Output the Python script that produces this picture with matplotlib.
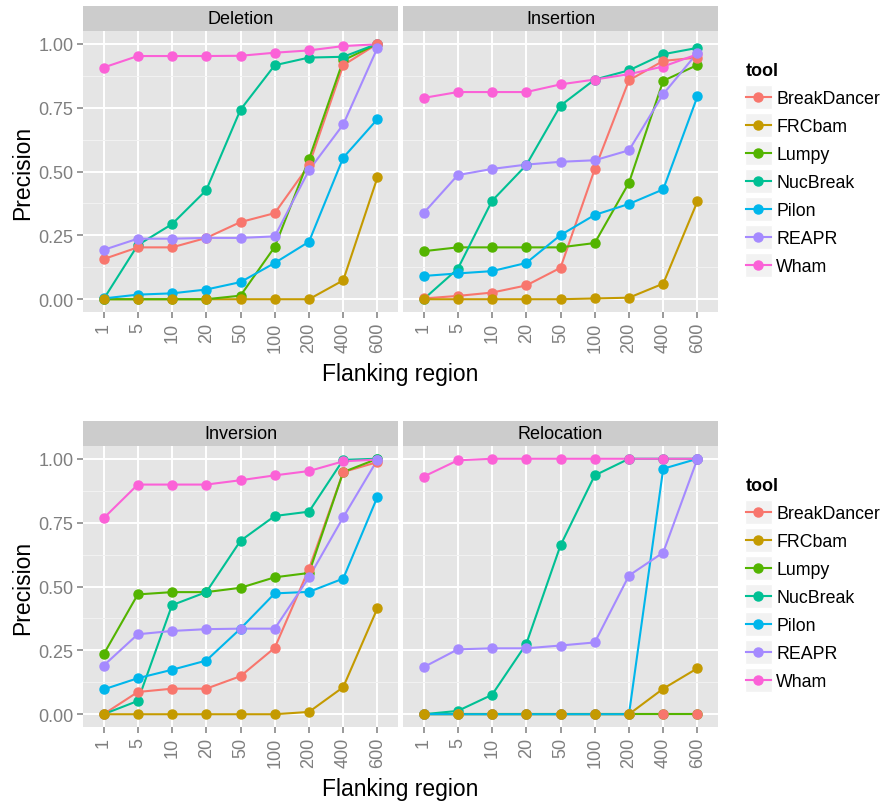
import matplotlib
matplotlib.use("Agg")
import matplotlib.pyplot as plt
from matplotlib.lines import Line2D
from matplotlib.patches import Rectangle
from matplotlib.legend_handler import HandlerLine2D
from matplotlib.ticker import MultipleLocator

plt.rcParams['font.family'] = ['Liberation Sans', 'DejaVu Sans']

flanks = ["1", "5", "10", "20", "50", "100", "200", "400", "600"]
tools = ["BreakDancer", "FRCbam", "Lumpy", "NucBreak", "Pilon", "REAPR", "Wham"]
colors = ["#F8766D", "#C49A00", "#53B400", "#00C094", "#00B6EB", "#A58AFF", "#FB61D7"]
# stacking of the points as it appears in the original
point_order = ["Lumpy", "NucBreak", "Pilon", "Wham", "BreakDancer", "FRCbam", "REAPR"]

# precision per tool, one list per flanking region size
deletion = {
    "BreakDancer": [0.157, 0.203, 0.203, 0.240, 0.302, 0.337, 0.525, 0.916, 1.000],
    "FRCbam":      [0.000, 0.000, 0.000, 0.000, 0.000, 0.000, 0.000, 0.074, 0.477],
    "Lumpy":       [0.000, 0.000, 0.000, 0.000, 0.014, 0.205, 0.548, 0.935, 1.000],
    "NucBreak":    [0.000, 0.212, 0.294, 0.427, 0.742, 0.916, 0.946, 0.949, 1.000],
    "Pilon":       [0.003, 0.018, 0.023, 0.038, 0.067, 0.142, 0.225, 0.554, 0.705],
    "REAPR":       [0.193, 0.237, 0.237, 0.240, 0.240, 0.246, 0.505, 0.684, 0.984],
    "Wham":        [0.907, 0.952, 0.952, 0.952, 0.953, 0.965, 0.974, 0.991, 0.998],
}
insertion = {
    "BreakDancer": [0.003, 0.013, 0.026, 0.054, 0.123, 0.509, 0.857, 0.933, 0.946],
    "FRCbam":      [0.000, 0.000, 0.000, 0.000, 0.000, 0.003, 0.006, 0.061, 0.383],
    "Lumpy":       [0.188, 0.203, 0.203, 0.203, 0.203, 0.220, 0.456, 0.855, 0.917],
    "NucBreak":    [0.000, 0.119, 0.385, 0.525, 0.758, 0.860, 0.896, 0.959, 0.984],
    "Pilon":       [0.091, 0.101, 0.110, 0.142, 0.251, 0.330, 0.373, 0.430, 0.794],
    "REAPR":       [0.337, 0.486, 0.510, 0.527, 0.538, 0.544, 0.583, 0.803, 0.965],
    "Wham":        [0.788, 0.811, 0.811, 0.811, 0.841, 0.860, 0.881, 0.911, 0.959],
}
inversion = {
    "BreakDancer": [0.000, 0.087, 0.100, 0.100, 0.149, 0.260, 0.569, 0.948, 0.987],
    "FRCbam":      [0.000, 0.000, 0.000, 0.000, 0.000, 0.000, 0.009, 0.106, 0.415],
    "Lumpy":       [0.234, 0.469, 0.478, 0.478, 0.495, 0.536, 0.553, 0.948, 1.000],
    "NucBreak":    [0.000, 0.052, 0.427, 0.478, 0.679, 0.776, 0.793, 0.996, 1.000],
    "Pilon":       [0.097, 0.141, 0.174, 0.210, 0.335, 0.473, 0.479, 0.531, 0.851],
    "REAPR":       [0.190, 0.313, 0.326, 0.333, 0.335, 0.335, 0.536, 0.771, 0.996],
    "Wham":        [0.767, 0.899, 0.899, 0.899, 0.916, 0.935, 0.952, 0.990, 0.997],
}
relocation = {
    "BreakDancer": [0.000, 0.000, 0.000, 0.000, 0.000, 0.000, 0.000, 0.000, 0.000],
    "FRCbam":      [0.000, 0.000, 0.000, 0.000, 0.000, 0.000, 0.000, 0.100, 0.180],
    "Lumpy":       [0.000, 0.000, 0.000, 0.000, 0.000, 0.000, 0.000, 0.000, 0.000],
    "NucBreak":    [0.000, 0.013, 0.076, 0.275, 0.661, 0.935, 1.000, 1.000, 1.000],
    "Pilon":       [0.000, 0.000, 0.000, 0.000, 0.000, 0.000, 0.000, 0.961, 1.000],
    "REAPR":       [0.184, 0.254, 0.258, 0.258, 0.269, 0.281, 0.543, 0.633, 1.000],
    "Wham":        [0.930, 0.994, 1.000, 1.000, 1.000, 1.000, 1.000, 1.000, 1.000],
}

W, H = 885, 803
GREY50 = "#7F7F7F"
tool_color = dict(zip(tools, colors))


def rect(x0, y0, x1, y1):
    # pixel box (top-left origin) -> figure fraction
    return [x0 / W, 1 - y1 / H, (x1 - x0) / W, (y1 - y0) / H]


class KeyHandler(HandlerLine2D):
    # ggplot-style legend key: grey square behind line + point
    def create_artists(self, legend, orig_handle, xdescent, ydescent,
                       width, height, fontsize, trans):
        bg = Rectangle((-xdescent - 1, -ydescent - 4), width + 2, height + 8,
                       facecolor="#F2F2F2", edgecolor="white", lw=1,
                       transform=trans)
        arts = super().create_artists(legend, orig_handle, xdescent, ydescent,
                                      width, height, fontsize, trans)
        return [bg] + list(arts)


def panel(box, title, data):
    x0, y0, x1, y1 = box
    ax = fig.add_axes(rect(x0, y0, x1, y1))
    ax.set_facecolor("#E5E5E5")
    for s in ax.spines.values():
        s.set_visible(False)
    xs = list(range(1, len(flanks) + 1))
    for tool in tools:
        ax.plot(xs, data[tool], color=tool_color[tool], lw=1.5, zorder=2)
    for tool in point_order:
        c = tool_color[tool]
        ax.plot(xs, data[tool], ls="none", marker="o", ms=6.5, color=c,
                mec=c, zorder=3)
    ax.set_xlim(0.4, len(flanks) + 0.6)
    ax.set_ylim(-0.05, 1.05)
    ax.set_xticks(xs)
    ax.set_xticklabels(flanks, rotation=90)
    ax.yaxis.set_major_locator(MultipleLocator(0.25))
    ax.yaxis.set_minor_locator(MultipleLocator(0.125))
    ax.set_axisbelow(True)
    ax.grid(which="major", color="white", lw=1.4)
    ax.grid(which="minor", axis="y", color="#F2F2F2", lw=0.7)
    ax.tick_params(which="major", colors=GREY50, labelsize=13, length=4,
                   width=1.1, pad=3)
    ax.tick_params(which="minor", length=0)
    # facet strip
    st = fig.add_axes(rect(x0, y0 - 25, x1, y0))
    st.set_facecolor("#CCCCCC")
    st.set_xticks([])
    st.set_yticks([])
    for s in st.spines.values():
        s.set_visible(False)
    st.text(0.5, 0.5, title, ha="center", va="center", fontsize=13,
            transform=st.transAxes)
    return ax


fig = plt.figure(figsize=(W / 100, H / 100), dpi=100)

rows = [
    (32, 313, [("Deletion", deletion), ("Insertion", insertion)]),
    (447, 728, [("Inversion", inversion), ("Relocation", relocation)]),
]
for top, bottom, facets in rows:
    axl = panel((83, top, 398, bottom), facets[0][0], facets[0][1])
    axr = panel((403, top, 718, bottom), facets[1][0], facets[1][1])
    axr.tick_params(axis="y", labelleft=False, left=False)
    axl.set_ylabel("Precision", fontsize=16.5, labelpad=3)
    fig.text((83 + 718) / 2 / W, 1 - (bottom + 62) / H, "Flanking region",
             ha="center", va="center", fontsize=16.5)

    handles = [Line2D([], [], color=c, lw=1.5, marker="o", ms=6.5)
               for c in colors]
    leg = fig.legend(handles, tools, loc="upper left",
                     bbox_to_anchor=(746 / W, 1 - (top + 31) / H),
                     frameon=False, title="tool", fontsize=12.8,
                     title_fontproperties={"weight": "bold", "size": 13},
                     handlelength=1.4, handletextpad=0.3, labelspacing=0.62,
                     borderaxespad=0, borderpad=0,
                     handler_map={Line2D: KeyHandler(numpoints=1)})
    leg._legend_box.align = "left"

fig.savefig("out.png", dpi=100)
